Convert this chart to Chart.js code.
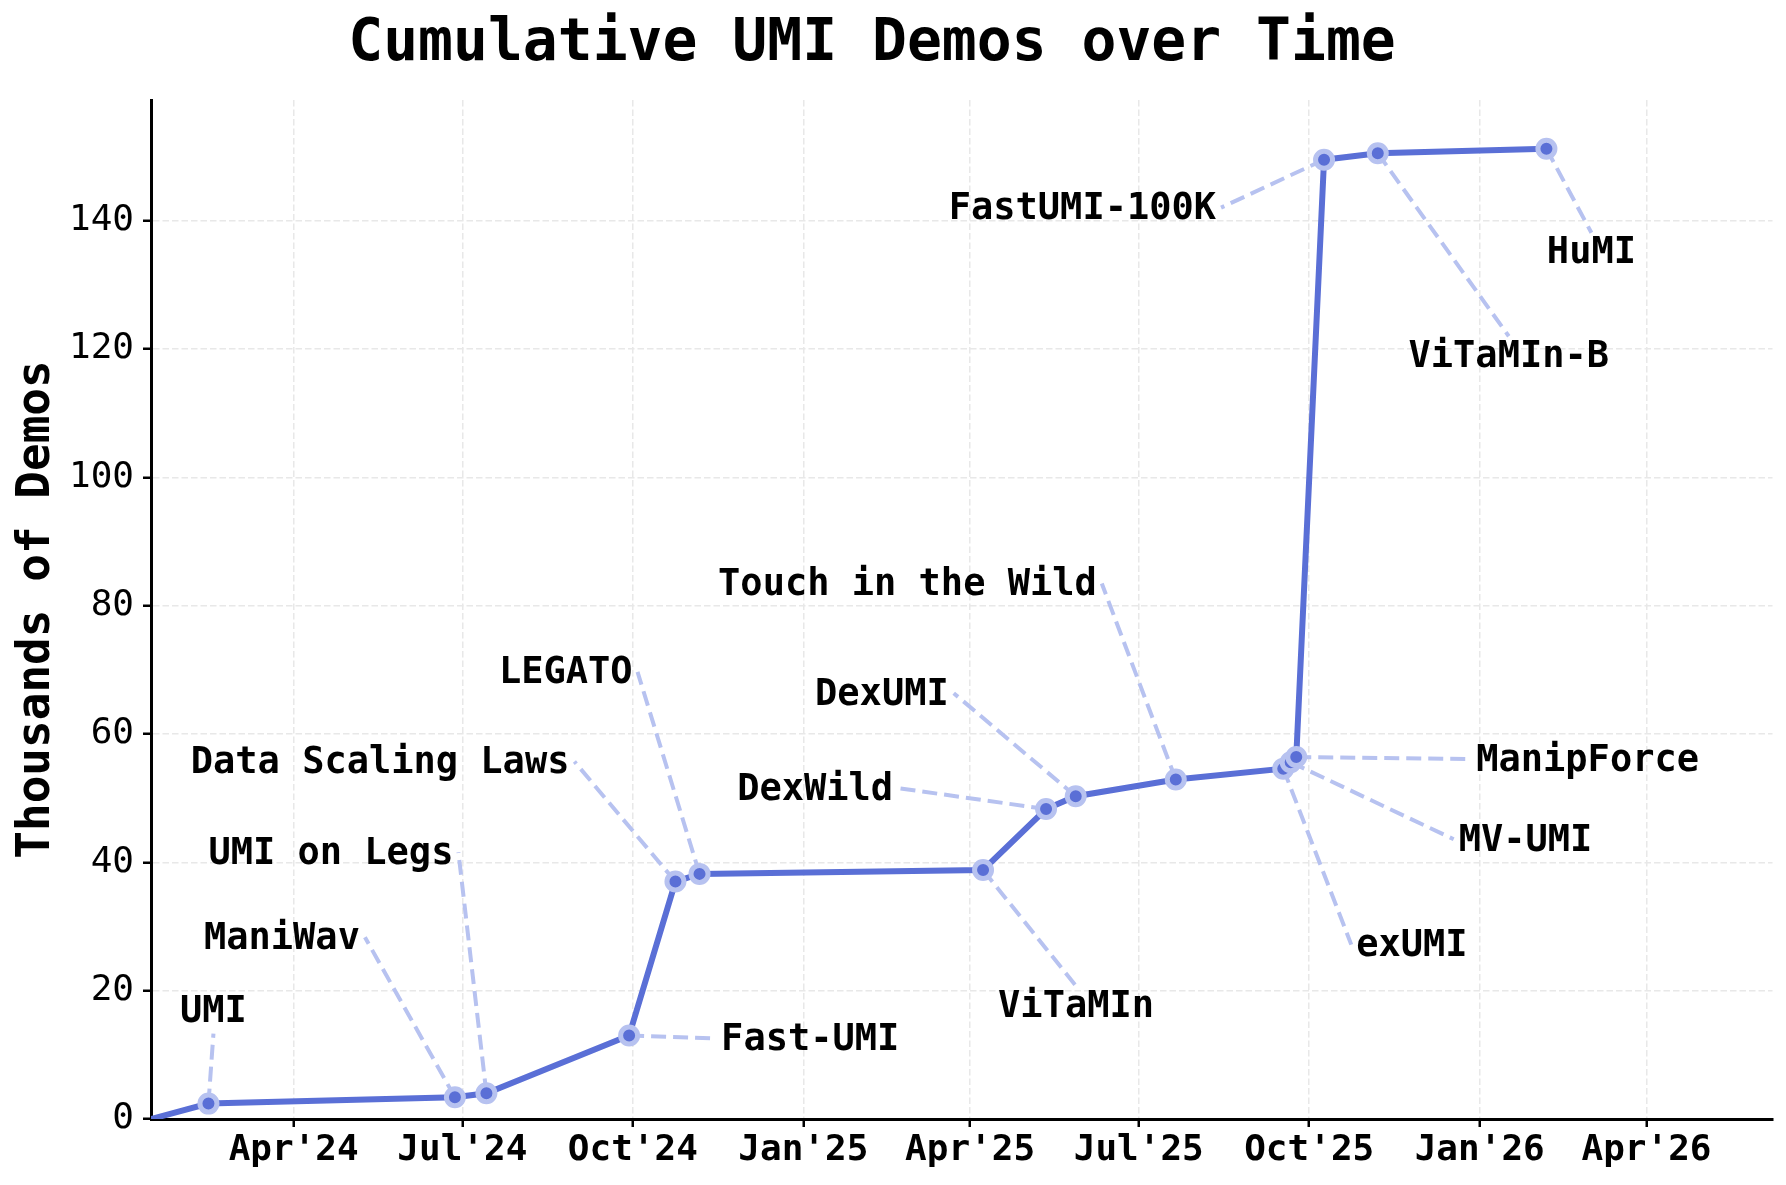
<!DOCTYPE html>
<html>
<head>
<meta charset="utf-8">
<script src="https://cdn.jsdelivr.net/npm/chart.js@4.4.1/dist/chart.umd.min.js"></script>
<style>
html, body { margin: 0; padding: 0; background: #fff; }
#wrap { width: 1786px; height: 1185px; }
</style>
</head>
<body>
<div id="wrap"><canvas id="graph_umi"></canvas></div>
<script>
// data (thousands of demos, cumulative)
var paperNames = ['UMI', 'ManiWav', 'UMI on Legs', 'Fast-UMI', 'Data Scaling Laws', 'LEGATO',
    'ViTaMIn', 'DexWild', 'DexUMI', 'Touch in the Wild', 'exUMI', 'MV-UMI', 'ManipForce',
    'FastUMI-100K', 'ViTaMIn-B', 'HuMI'];
var releaseDates = ['2024-02-15', '2024-06-27', '2024-07-14', '2024-09-29', '2024-10-24', '2024-11-06',
    '2025-04-08', '2025-05-12', '2025-05-28', '2025-07-21', '2025-09-17', '2025-09-21', '2025-09-24',
    '2025-10-09', '2025-11-07', '2026-02-06'];
var demoTotals = [2.4, 3.4, 4.0, 13.0, 37.0, 38.2,
    38.8, 48.3, 50.3, 52.9, 54.6, 55.6, 56.4,
    149.5, 150.5, 151.2];
var startDate = '2024-01-15';
var endDate = '2026-06-08';

var tickDates = ['2024-04-01', '2024-07-01', '2024-10-01', '2025-01-01', '2025-04-01',
    '2025-07-01', '2025-10-01', '2026-01-01', '2026-04-01'];
var tickLabels = ["Apr'24", "Jul'24", "Oct'24", "Jan'25", "Apr'25", "Jul'25", "Oct'25", "Jan'26", "Apr'26"];
var yTicks = [0, 20, 40, 60, 80, 100, 120, 140];
var yMax = 158.8;

// where each label sits, in px from its point: [dx, dy, side]
var labelOffsets = [
    [5, -93, 'above'], [-95, -160, 'right'], [-33, -241, 'right'], [92, 3, 'left'],
    [-106, -120, 'right'], [-67, -202, 'right'], [93, 135, 'below'], [-153, -21, 'right'],
    [-127, -103, 'right'], [-79, -196, 'right'], [73, 176, 'left'], [168, 77, 'left'],
    [180, 2, 'left'], [-108, 48, 'right'], [131, 202, 'below'], [45, 103, 'below']
];

var DARK = '#5a6fd6';
var LIGHT = '#b7c2f0';

function toMs(s) {
    return Date.parse(s + 'T00:00:00Z');
}

var points = [{x: toMs(startDate), y: 0}];
for (var i = 0; i < releaseDates.length; i++) {
    points.push({x: toMs(releaseDates[i]), y: demoTotals[i]});
}
var radii = points.map(function (p, i) { return i === 0 ? 0 : 8.5; });

function lineEnd(p, o) {
    var tx = p.x + o[0], ty = p.y + o[1];
    if (o[2] === 'right') return {x: tx + 5, y: ty};
    if (o[2] === 'left') return {x: tx - 5, y: ty};
    if (o[2] === 'above') return {x: tx, y: ty + 23};
    return {x: tx, y: ty - 19};
}

var umiLabels = {
    id: 'umiLabels',
    beforeDatasetsDraw: function (chart) {
        var ctx = chart.ctx;
        var meta = chart.getDatasetMeta(0);
        ctx.save();
        ctx.strokeStyle = LIGHT;
        ctx.lineWidth = 4;
        ctx.setLineDash([15, 7]);
        for (var i = 0; i < paperNames.length; i++) {
            var p = meta.data[i + 1];
            var e = lineEnd(p, labelOffsets[i]);
            ctx.beginPath();
            ctx.moveTo(p.x, p.y);
            ctx.lineTo(e.x, e.y);
            ctx.stroke();
        }
        ctx.restore();
    },
    afterDatasetsDraw: function (chart) {
        var ctx = chart.ctx;
        var meta = chart.getDatasetMeta(0);
        ctx.save();
        ctx.fillStyle = '#000';
        ctx.font = 'bold 37px "DejaVu Sans Mono"';
        ctx.textBaseline = 'alphabetic';
        for (var i = 0; i < paperNames.length; i++) {
            var p = meta.data[i + 1], o = labelOffsets[i];
            var side = o[2];
            ctx.textAlign = side === 'right' ? 'right' : (side === 'left' ? 'left' : 'center');
            ctx.fillText(paperNames[i], p.x + o[0], p.y + o[1] + 11.5);
        }
        // title
        ctx.font = 'bold 58px "DejaVu Sans Mono"';
        ctx.textAlign = 'center';
        ctx.fillText('Cumulative UMI Demos over Time', 872, 60);
        ctx.restore();
    }
};

var ctx = document.getElementById('graph_umi');

var myChart_umi = new Chart(ctx, {
    type: 'line',
    data: {
        datasets: [{
            data: points,
            borderColor: DARK,
            borderWidth: 6,
            tension: 0,
            fill: false,
            pointRadius: radii,
            pointHoverRadius: radii,
            pointBorderWidth: 5,
            pointBorderColor: LIGHT,
            pointBackgroundColor: DARK
        }]
    },
    options: {
        responsive: true,
        maintainAspectRatio: false,
        devicePixelRatio: 1,
        animation: false,
        events: [],
        layout: {
            padding: {left: 0, top: 100, right: 11, bottom: 0}
        },
        plugins: {
            legend: {display: false},
            tooltip: {enabled: false}
        },
        scales: {
            x: {
                type: 'linear',
                min: toMs(startDate),
                max: toMs(endDate),
                afterBuildTicks: function (s) {
                    s.ticks = tickDates.map(function (d) { return {value: toMs(d)}; });
                },
                afterFit: function (s) { s.height = 66; },
                ticks: {
                    autoSkip: false,
                    maxRotation: 0,
                    padding: 2,
                    color: '#000',
                    font: {family: 'DejaVu Sans Mono', weight: 'bold', size: 36},
                    callback: function (v, i) { return tickLabels[i]; }
                },
                grid: {color: '#e8e8e8', lineWidth: 1.5, tickColor: '#000', tickLength: 8, tickWidth: 2.5},
                border: {color: '#000', width: 3, dash: [6.5, 3]}
            },
            y: {
                min: 0,
                max: yMax,
                afterBuildTicks: function (s) {
                    s.ticks = yTicks.map(function (v) { return {value: v}; });
                },
                afterFit: function (s) { s.width = 151; },
                ticks: {
                    padding: 9,
                    color: '#000',
                    font: {family: 'DejaVu Sans Mono', size: 36},
                    callback: function (v) { return String(v); }
                },
                grid: {color: '#e8e8e8', lineWidth: 1.5, tickColor: '#000', tickLength: 8, tickWidth: 2.5},
                border: {color: '#000', width: 3, dash: [6.5, 3]},
                title: {
                    display: true,
                    text: 'Thousands of Demos',
                    color: '#000',
                    font: {family: 'DejaVu Sans Mono', weight: 'bold', size: 46},
                    padding: {top: 9, bottom: 0}
                }
            }
        }
    },
    plugins: [umiLabels]
});
</script>
</body>
</html>
